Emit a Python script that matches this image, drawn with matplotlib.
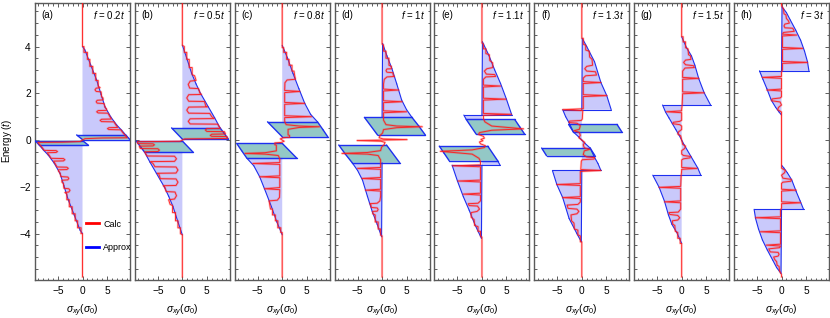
import numpy as np
import matplotlib
matplotlib.use("Agg")
import matplotlib.pyplot as plt
from matplotlib.lines import Line2D
from matplotlib.ticker import MultipleLocator

plt.rcParams['font.family'] = ['Liberation Sans', 'DejaVu Sans']
plt.rcParams['mathtext.fontset'] = 'custom'
plt.rcParams['mathtext.rm'] = 'Liberation Sans'
plt.rcParams['mathtext.it'] = 'Liberation Sans:italic'

# panel labels and flux values
letters = ['(a)', '(b)', '(c)', '(d)', '(e)', '(f)', '(g)', '(h)']
fvals = ['0.2', '0.5', '0.8', '1', '1.1', '1.3', '1.5', '3']

# approx regions, upper half only (lower half is the point mirror)
blue_a = [[(0, 4.0), (0.5, 3.85), (1.7, 3.2), (2.9, 2.56), (3.8, 1.95), (4.6, 1.42), (5.8, 0.98),
           (7.0, 0.64), (8.0, 0.42), (8.8, 0.22), (0, 0.22)]]
teal_a = [[(-1.2, 0.22), (8.8, 0.22), (9.7, 0.02), (0, 0.02)]]

blue_b = [[(0, 4.06), (0.9, 3.5), (1.9, 2.85), (2.8, 2.4), (3.7, 2.0), (5.3, 1.42), (6.6, 0.95),
           (7.7, 0.52), (0, 0.52)]]
teal_b = [[(-2.2, 0.52), (7.7, 0.52), (8.5, 0.3), (9.4, 0.04), (0, 0.04)]]

blue_c = [[(0, 4.05), (1.1, 3.5), (2.2, 2.85), (3.4, 2.2), (4.6, 1.57), (5.8, 1.1), (7.2, 0.78), (0, 0.78)]]
teal_c = [[(-3.0, 0.78), (7.2, 0.78), (8.3, 0.45), (9.3, 0.14), (0, 0.14)]]

blue_d = [[(0.1, 4.13), (1.0, 3.6), (2.0, 3.06), (3.0, 2.4), (4.0, 1.71), (5.0, 1.3), (6.1, 0.97), (0, 0.97)]]
teal_d = [[(-3.6, 0.97), (6.1, 0.97), (7.5, 0.6), (8.85, 0.21), (-0.9, 0.21)]]

blue_e = [[(0.1, 4.2), (1.4, 3.63), (2.6, 3.0), (3.8, 2.42), (5.0, 1.75), (6.1, 1.07), (0, 1.07)],
          [(-3.7, 1.07), (0, 1.07), (0, 0.88), (-3.2, 0.88)]]
teal_e = [[(-3.2, 0.88), (6.7, 0.88), (7.7, 0.57), (8.7, 0.26), (-1.2, 0.26)]]

blue_f = [[(0.1, 4.35), (1.0, 4.0), (2.6, 3.35), (3.9, 2.46), (5.1, 1.9), (6.0, 1.3), (0, 1.3)],
          [(-3.9, 1.3), (0, 1.3), (0, 0.0), (-0.7, 0.15), (-1.7, 0.34), (-2.6, 0.74), (-3.3, 1.0)]]
teal_f = [[(-2.7, 0.67), (7.2, 0.67), (8.2, 0.34), (-1.7, 0.34)]]

blue_g = [[(0, 4.42), (1.0, 3.95), (2.0, 3.6), (2.7, 3.2), (3.5, 2.62), (4.6, 2.02), (5.9, 1.5), (0, 1.5)],
          [(-3.9, 1.5), (0, 1.5), (0, 0.0), (-0.5, 0.2), (-1.2, 0.45), (-1.9, 0.7), (-2.6, 0.95), (-3.3, 1.2)]]
teal_g = []

blue_h = [[(0.1, 5.7), (1.0, 5.45), (1.8, 5.13), (2.9, 4.7), (3.9, 4.27), (4.7, 3.8), (5.3, 3.35),
           (5.6, 2.96), (0, 2.96)],
          [(-4.5, 2.96), (0, 2.96), (0, 1.07), (-0.5, 1.2), (-1.2, 1.4), (-2.1, 1.71), (-3.0, 2.2), (-3.8, 2.6)]]
teal_h = []

# calculated sigma_xy, upper half (x = sigma, y = energy)
calc_a = [(0, 5.85), (0, 4.0), (0.3, 4.0), (0.3, 3.75), (1.0, 3.75), (1.0, 3.45), (1.5, 3.45), (1.5, 3.15),
          (2.1, 3.15), (2.1, 2.85), (2.7, 2.85), (2.7, 2.55), (3.2, 2.55), (3.2, 2.3), (3.6, 2.24), (2.8, 2.22),
          (2.55, 2.15), (2.8, 2.08), (3.8, 2.06), (3.9, 1.85), (4.2, 1.8), (4.2, 1.72), (3.0, 1.7), (2.8, 1.64),
          (3.0, 1.58), (4.4, 1.56), (4.6, 1.4), (4.9, 1.33), (4.9, 1.27), (3.2, 1.26), (2.9, 1.21), (3.2, 1.16),
          (5.2, 1.15), (5.6, 1.0), (5.9, 0.9), (3.9, 0.89), (3.6, 0.84), (3.9, 0.79), (6.4, 0.78), (6.9, 0.62),
          (7.2, 0.54), (5.4, 0.53), (5.1, 0.49), (5.4, 0.45), (7.8, 0.44), (8.3, 0.3), (8.8, 0.18), (9.1, 0.1),
          (4.0, 0.09), (0.5, 0.06)]
calc_b = [(0, 5.85), (0, 4.05), (0.4, 4.0), (0.4, 3.75), (0.9, 3.75), (0.9, 3.45), (1.4, 3.45), (1.4, 3.1),
          (2.0, 3.1), (2.0, 2.8), (2.5, 2.75), (2.8, 2.55), (1.6, 2.52), (1.2, 2.38), (1.5, 2.22), (3.3, 2.2),
          (3.6, 2.0), (3.9, 1.95), (1.3, 1.94), (0.9, 1.8), (1.3, 1.66), (4.5, 1.65), (4.8, 1.45), (5.1, 1.42),
          (1.3, 1.41), (0.9, 1.28), (1.3, 1.15), (5.6, 1.14), (6.0, 1.0), (6.5, 0.92), (1.6, 0.91), (1.2, 0.8),
          (1.6, 0.69), (7.2, 0.68), (7.7, 0.5), (5.0, 0.49), (4.7, 0.43), (5.0, 0.37), (8.6, 0.36), (8.8, 0.26),
          (6.0, 0.25), (5.7, 0.2), (6.0, 0.16), (9.1, 0.15), (9.2, 0.07), (0.5, 0.05)]
calc_c = [(0, 5.85), (0, 3.95), (0.3, 3.95), (0.3, 3.75), (0.9, 3.75), (0.9, 3.45), (1.4, 3.45), (1.4, 3.2),
          (2.0, 3.2), (2.0, 2.95), (2.4, 2.95), (2.6, 2.7), (2.7, 2.6), (1.0, 2.57), (0.55, 2.45), (0.5, 2.12),
          (3.6, 2.08), (0.5, 2.03), (0.5, 1.61), (4.6, 1.57), (0.5, 1.53), (0.5, 1.04), (6.0, 1.0), (0.5, 0.96),
          (0.5, 0.8), (0.8, 0.66), (3.5, 0.6), (7.6, 0.57), (3.5, 0.54), (1.2, 0.46), (1.2, 0.22), (1.5, 0.2),
          (1.5, 0.12), (0.2, 0.1), (-0.4, 0.05)]
calc_d = [(0, 5.85), (0, 4.1), (0.3, 4.06), (0.3, 3.8), (0.8, 3.8), (0.8, 3.5), (1.4, 3.5), (1.4, 3.2),
          (1.9, 3.15), (1.9, 3.05), (1.0, 3.04), (0.8, 2.97), (1.0, 2.9), (2.2, 2.88), (2.3, 2.75), (2.5, 2.72),
          (1.0, 2.7), (0.45, 2.6), (0.3, 2.4), (0.3, 2.18), (3.4, 2.14), (0.3, 2.1), (0.3, 1.68), (4.1, 1.64),
          (0.3, 1.6), (0.3, 1.25), (5.0, 1.21), (0.3, 1.17), (0.3, 0.85), (0.8, 0.66), (3.0, 0.6), (8.2, 0.57),
          (3.0, 0.53), (0.3, 0.45), (0.1, 0.3), (-0.4, 0.2), (-0.6, 0.1), (0.2, 0.05), (5.1, 0.02), (0.2, 0.0)]
calc_e = [(0, 5.85), (0, 4.15), (0.3, 4.1), (0.3, 3.9), (0.8, 3.9), (0.8, 3.7), (1.5, 3.65), (1.6, 3.4),
          (2.2, 3.3), (2.2, 3.1), (1.0, 3.05), (0.5, 2.95), (0.9, 2.82), (2.6, 2.8), (2.8, 2.72), (0.8, 2.7),
          (0.3, 2.6), (0.3, 2.35), (3.8, 2.31), (0.3, 2.27), (0.3, 1.79), (4.9, 1.75), (0.3, 1.71), (0.3, 1.14),
          (6.0, 1.1), (0.3, 1.06), (0.3, 0.92), (0.6, 0.78), (2.0, 0.6), (8.5, 0.48), (2.0, 0.42), (-0.5, 0.32),
          (-0.7, 0.24), (0.3, 0.16), (0.5, 0.08), (-0.2, 0.03)]
calc_f = [(0, 5.85), (0, 4.35), (0.3, 4.35), (0.3, 4.1), (0.8, 4.05), (0.8, 3.85), (1.5, 3.8), (1.6, 3.55),
          (2.1, 3.45), (2.2, 3.2), (1.0, 3.15), (0.6, 3.05), (1.0, 2.95), (2.8, 2.92), (3.0, 2.78), (0.8, 2.75),
          (0.3, 2.65), (0.3, 2.5), (3.9, 2.46), (0.3, 2.42), (0.3, 1.94), (5.1, 1.9), (0.3, 1.86), (0.3, 1.34),
          (-3.9, 1.3), (0.2, 1.26), (0.1, 0.9), (-0.1, 0.84), (-2.5, 0.81), (-2.6, 0.75), (-1.0, 0.72),
          (-0.3, 0.62), (-0.5, 0.46), (-1.6, 0.4), (-0.5, 0.33), (-0.3, 0.2), (-0.6, 0.1), (0, 0.0)]
calc_g = [(0, 5.85), (0, 4.42), (0.3, 4.42), (0.3, 4.2), (0.8, 4.2), (0.8, 3.95), (1.3, 3.9), (1.4, 3.65),
          (1.8, 3.6), (1.9, 3.45), (0.8, 3.42), (0.4, 3.32), (0.8, 3.22), (2.4, 3.18), (2.6, 3.1), (0.7, 3.08),
          (0.2, 2.95), (0.2, 2.68), (3.5, 2.64), (0.2, 2.6), (0.2, 2.06), (4.6, 2.02), (0.2, 1.98), (0.1, 1.5),
          (0, 1.3), (0, 1.25), (-3.1, 1.21), (0, 1.17), (0, 0.85), (-0.4, 0.8), (-1.7, 0.76), (-1.8, 0.7),
          (-0.4, 0.66), (0, 0.6), (0, 0.45), (-0.6, 0.36), (-0.8, 0.26), (-0.2, 0.18), (0, 0.0)]
calc_h = [(0, 5.85), (0, 5.75), (0.4, 5.6), (0.5, 5.4), (0.9, 5.35), (1.0, 5.2), (1.4, 5.1), (1.6, 5.0),
          (0.7, 4.96), (0.5, 4.88), (0.7, 4.8), (2.3, 4.78), (2.6, 4.65), (0.4, 4.6), (0.2, 4.53), (3.1, 4.49),
          (0.2, 4.45), (0.2, 3.96), (4.3, 3.92), (0.2, 3.88), (0.2, 3.36), (5.3, 3.32), (0.2, 3.28), (0.2, 3.0),
          (0, 2.9), (0, 2.72), (-3.9, 2.68), (0, 2.64), (0, 2.18), (-3.0, 2.14), (0, 2.1), (0, 1.85),
          (-0.3, 1.8), (-1.9, 1.76), (-2.0, 1.68), (-0.3, 1.63), (0, 1.5), (-0.6, 1.4), (-0.8, 1.3), (0, 1.2),
          (0, 0.0)]

blues = [blue_a, blue_b, blue_c, blue_d, blue_e, blue_f, blue_g, blue_h]
teals = [teal_a, teal_b, teal_c, teal_d, teal_e, teal_f, teal_g, teal_h]
calcs = [calc_a, calc_b, calc_c, calc_d, calc_e, calc_f, calc_g, calc_h]

blue_fill = '#c9c9fb'
teal_fill = '#93c8c6'
edge = '#1d2ff0'
red = '#ff1a1a'


def mirror(poly):
    return [(-x, -y) for x, y in poly]


def draw_poly(ax, poly, fc, lw, z):
    xs = [p[0] for p in poly]
    ys = [p[1] for p in poly]
    ax.fill(xs, ys, color=fc, lw=0, zorder=z)
    n = len(poly)
    for k in range(n):
        p, q = poly[k], poly[(k + 1) % n]
        if p[0] == 0 and q[0] == 0:  # the sigma=0 side has no outline
            continue
        ax.plot([p[0], q[0]], [p[1], q[1]], color=edge, lw=lw, zorder=3, solid_capstyle='round')


fig = plt.figure(figsize=(8.3, 3.18), dpi=100)
step = 99.86
for i in range(8):
    ax = fig.add_axes([(35 + step * i) / 830, 38.5 / 318, 95 / 830, 276.5 / 318])
    for poly in blues[i]:
        draw_poly(ax, poly, blue_fill, 0.8, 1)
        draw_poly(ax, mirror(poly), blue_fill, 0.8, 1)
    for poly in teals[i]:
        draw_poly(ax, poly, teal_fill, 1.0, 2)
        draw_poly(ax, mirror(poly), teal_fill, 1.0, 2)

    pts = calcs[i] + [(-x, -y) for x, y in reversed(calcs[i])]
    cx = [p[0] for p in pts]
    cy = [p[1] for p in pts]
    ax.plot(cx, cy, color=red, lw=1.7, alpha=0.22, zorder=4)
    ax.plot(cx, cy, color=red, lw=0.7, alpha=0.9, zorder=5)

    ax.set_xlim(-9.7, 9.7)
    ax.set_ylim(-5.96, 5.86)
    ax.xaxis.set_major_locator(MultipleLocator(5))
    ax.xaxis.set_minor_locator(MultipleLocator(1))
    ax.yaxis.set_major_locator(MultipleLocator(2))
    ax.yaxis.set_minor_locator(MultipleLocator(0.5))
    ax.tick_params(which='both', direction='in', top=True, right=True, color='#444444', width=0.6,
                   labelsize=7.3)
    ax.tick_params(axis='x', pad=4.5)
    ax.tick_params(axis='y', pad=3)
    ax.tick_params(which='major', length=3)
    ax.tick_params(which='minor', length=1.8)
    for s in ax.spines.values():
        s.set_color('#5a5a5a')
        s.set_linewidth(1.0)
    if i > 0:
        ax.set_yticklabels([])
    else:
        ax.set_ylabel('Energy ($t$)', fontsize=7, labelpad=4)
    ax.set_xlabel(r'$\sigma_{xy}(\sigma_0)$', fontsize=7.5, labelpad=5)
    ax.text(0.07, 0.955, letters[i], transform=ax.transAxes, fontsize=7, ha='left', va='center')
    ax.text(0.95, 0.955, '$f$ = ' + fvals[i] + '$t$', transform=ax.transAxes, fontsize=7,
            ha='right', va='center')
    if i == 0:
        handles = [Line2D([], [], color='red', lw=2), Line2D([], [], color='blue', lw=2)]
        ax.legend(handles, ['Calc', 'Approx'], loc='lower left', bbox_to_anchor=(0.45, 0.07),
                  frameon=False, fontsize=6.5, handlelength=1.4, handletextpad=0.5, labelspacing=1.6)

fig.savefig('out.png', dpi=100)
